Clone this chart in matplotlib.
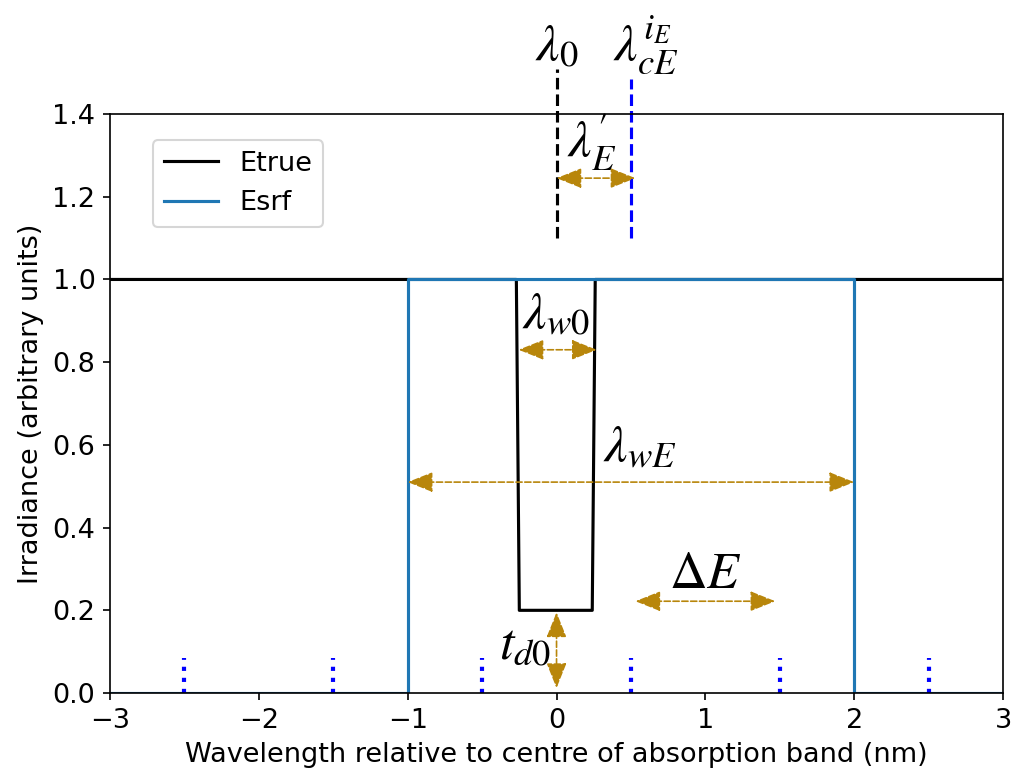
import matplotlib
matplotlib.use("Agg")
import matplotlib.pyplot as plt
import numpy as np

plt.rcParams['mathtext.fontset'] = 'stix'
plt.rcParams['font.size'] = 13

# Data
x_true = [-3, -0.27, -0.25, 0.24, 0.26, 3]
y_true = [1.0, 1.0, 0.2, 0.2, 1.0, 1.0]
x_srf = [-3, -1, -1, 2, 2, 3]
y_srf = [0.0, 0.0, 1.0, 1.0, 0.0, 0.0]
sample_x = [-2.5, -1.5, -0.5, 0.5, 1.5, 2.5]
sample_h = 0.085
lambda0 = 0.0
lambda_cE = 0.5

fig = plt.figure(figsize=(6.76, 5.2), dpi=150)
ax = fig.add_axes([0.1085, 0.1115, 0.8807, 0.7423])

ax.plot(x_true, y_true, color='black', lw=1.5, label='Etrue')
ax.plot(x_srf, y_srf, color='#1f77b4', lw=1.5, label='Esrf')

for xs in sample_x:
    ax.plot([xs, xs], [0, sample_h], color='blue', ls=':', lw=2)

ax.plot([lambda0, lambda0], [1.1, 1.51], color='black', ls='--', lw=1.5, clip_on=False)
ax.plot([lambda_cE, lambda_cE], [1.1, 1.485], color='blue', ls='--', lw=1.5, clip_on=False)

gold = '#b8860b'
def darrow(x1, y1, x2, y2):
    ax.annotate('', xy=(x2, y2), xytext=(x1, y1),
                arrowprops=dict(arrowstyle='<|-|>,head_length=0.8,head_width=0.32',
                                ls='--', lw=0.8, color=gold,
                                shrinkA=0, shrinkB=0), annotation_clip=False)

darrow(0.0, 1.245, 0.53, 1.245)
darrow(-0.255, 0.83, 0.27, 0.83)
darrow(-1.0, 0.51, 2.0, 0.51)
darrow(0.53, 0.222, 1.47, 0.222)
darrow(0.0, 0.195, 0.0, 0.012)

fs = 25
ax.text(0.0, 1.53, r'$\lambda_0$', fontsize=fs, ha='center', va='baseline')
ax.text(0.6, 1.53, r'$\lambda_{cE}^{i_E}$', fontsize=fs, ha='center', va='baseline')
ax.text(0.24, 1.295, r"$\lambda_E'$", fontsize=fs, ha='center', va='baseline')
ax.text(0.0, 0.88, r'$\lambda_{w0}$', fontsize=fs, ha='center', va='baseline')
ax.text(0.31, 0.56, r'$\lambda_{wE}$', fontsize=fs, ha='left', va='baseline')
ax.text(1.0, 0.255, r'$\Delta E$', fontsize=fs, ha='center', va='baseline')
ax.text(-0.21, 0.08, r'$t_{d0}$', fontsize=fs, ha='center', va='baseline')

ax.set_xlim(-3, 3)
ax.set_ylim(0, 1.4)
ax.set_xticks([-3, -2, -1, 0, 1, 2, 3])
ax.set_yticks([0.0, 0.2, 0.4, 0.6, 0.8, 1.0, 1.2, 1.4])
ax.set_xlabel('Wavelength relative to centre of absorption band (nm)')
ax.set_ylabel('Irradiance (arbitrary units)')
ax.legend(loc='upper left', bbox_to_anchor=(0.048, 0.955), borderaxespad=0)

fig.savefig('out.png', dpi=150)
